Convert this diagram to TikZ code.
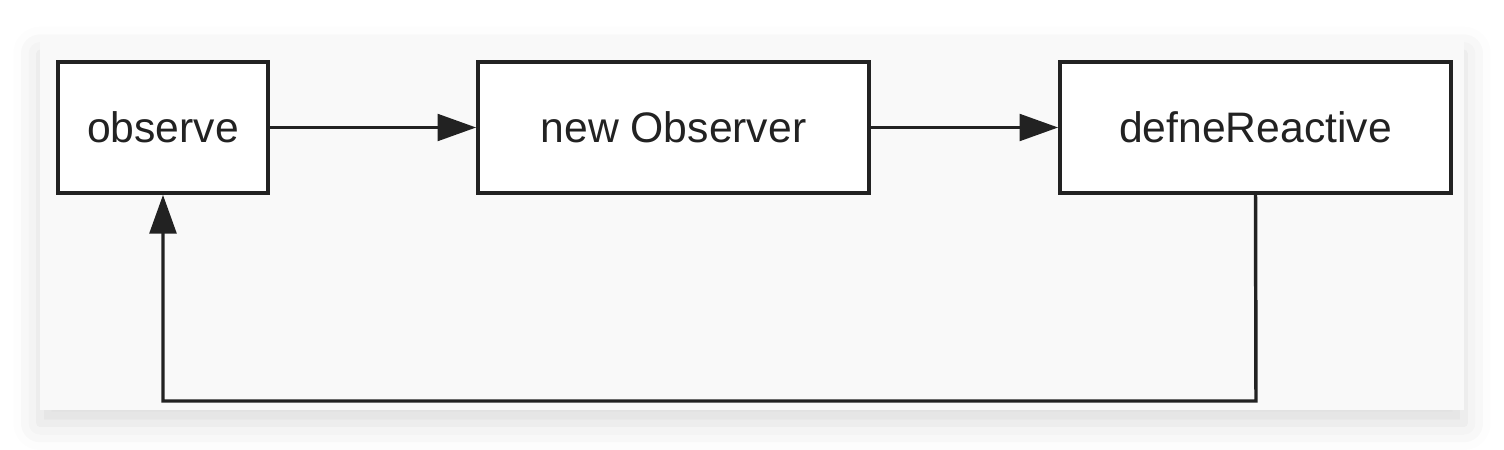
\documentclass[tikz,border=0pt]{standalone}
\usepackage{fontspec}
\setmainfont{Liberation Sans}
\usetikzlibrary{arrows.meta,shadows.blur,positioning}
\definecolor{panelgray}{HTML}{F9F9F9}
\definecolor{inkgray}{HTML}{222222}
\tikzset{
  stagebox/.style={draw=inkgray, line width=3pt, fill=white, minimum height=98pt,
    text=inkgray, font=\fontsize{32}{38}\selectfont, inner sep=0pt},
  flow/.style={draw=inkgray, line width=2.6pt, -{Triangle[length=29pt,width=20pt]}}
}
\begin{document}
\begin{tikzpicture}[x=0.75pt,y=-0.75pt]
				\useasboundingbox (0,0) rectangle (1504,450);
				\fill[panelgray, blur shadow={shadow xshift=0pt, shadow yshift=-10pt, shadow blur radius=20pt, shadow opacity=14}] (40,40) rectangle (1464,410);
				\node[stagebox, minimum width=157.5pt] (observe) at (163,127.5) {observe};
				\node[stagebox, minimum width=293pt] (newobs) at (673.5,127.5) {new Observer};
				\node[stagebox, minimum width=293pt] (define) at (1255.5,127.5) {defneReactive};
				\coordinate (loopr) at (1256,401);
				\coordinate (loopl) at (163,401);
				\draw[flow] (observe) -- (newobs);
				\draw[flow] (newobs) -- (define);
				\draw[flow] (define.south) -- (loopr) -- (loopl) -- (observe.south);
			\end{tikzpicture}
\end{document}
